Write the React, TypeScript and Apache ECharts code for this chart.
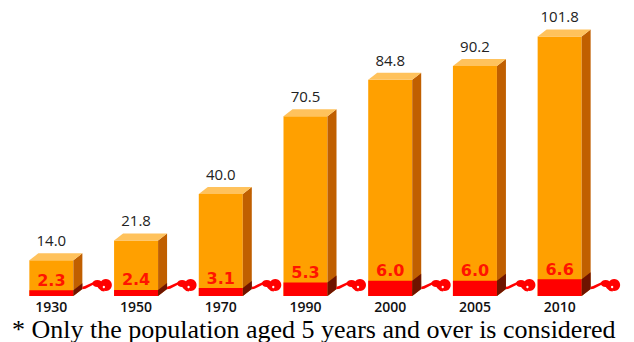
import React, { useEffect, useRef } from "react";
import * as echarts from "echarts";

const categories = ["1930", "1950", "1970", "1990", "2000", "2005", "2010"];
const totalValues = [14.0, 21.8, 40.0, 70.5, 84.8, 90.2, 101.8];
const redValues = [2.3, 2.4, 3.1, 5.3, 6.0, 6.0, 6.6];
const footnote = "* Only the population aged 5 years and over is considered";

const ORANGE = "#ffa000";
const ORANGE_SIDE = "#c05f00";
const ORANGE_TOP = "#ffc25c";
const RED = "#ff0000";
const RED_SIDE = "#6e1400";
const BAR_W = 44;
const DX = 9;
const DY = 7;

function boxChildren(api: any, value: number, front: string, side: string, top: string | null) {
  const base = api.coord([api.value(0), 0]);
  const tp = api.coord([api.value(0), value]);
  const cx = base[0];
  const x0 = cx - BAR_W / 2;
  const x1 = cx + BAR_W / 2;
  const yb = base[1];
  const yt = tp[1];
  const ch: any[] = [
    { type: "rect", shape: { x: x0, y: yt, width: BAR_W, height: yb - yt }, style: { fill: front } },
    {
      type: "polygon",
      shape: { points: [[x1, yt], [x1 + DX, yt - DY], [x1 + DX, yb - DY], [x1, yb]] },
      style: { fill: side },
    },
  ];
  if (top) {
    ch.push({
      type: "polygon",
      shape: { points: [[x0, yt], [x0 + DX, yt - DY], [x1 + DX, yt - DY], [x1, yt]] },
      style: { fill: top },
    });
  }
  return { ch, cx, x0, x1, yb, yt };
}

export default function App() {
  const ref = useRef<HTMLDivElement>(null);
  useEffect(() => {
    if (!ref.current) return;
    const chart = echarts.init(ref.current, null, { renderer: "svg" });
    chart.setOption({
      animation: false,
      grid: { left: 9, right: 32, top: 15.5, bottom: 46 },
      xAxis: {
        type: "category",
        data: categories,
        axisLine: { show: false },
        axisTick: { show: false },
        axisLabel: {
          margin: 3,
          fontSize: 14,
          lineHeight: 14,
          color: "#111",
          fontFamily: "Open Sans",
          fontWeight: 600,
        },
      },
      yAxis: { type: "value", min: 0, max: 110, show: false },
      series: [
        {
          type: "custom",
          data: totalValues.map((v, i) => [i, v]),
          renderItem: (params: any, api: any) => {
            const v = api.value(1);
            const b = boxChildren(api, v, ORANGE, ORANGE_SIDE, ORANGE_TOP);
            b.ch.push({
              type: "text",
              style: {
                text: v.toFixed(1),
                x: b.cx,
                y: b.yt - 20,
                align: "center",
                verticalAlign: "middle",
                fill: "#222",
                fontSize: 15,
                fontFamily: "Open Sans",
              },
            });
            return { type: "group", children: b.ch };
          },
        },
        {
          type: "custom",
          data: redValues.map((v, i) => [i, v]),
          renderItem: (params: any, api: any) => {
            const v = api.value(1);
            const b = boxChildren(api, v, RED, RED_SIDE, null);
            b.ch.push({
              type: "text",
              style: {
                text: v.toFixed(1),
                x: b.cx,
                y: b.yt - 2,
                align: "center",
                verticalAlign: "bottom",
                fill: "#ff1400",
                fontSize: 16,
                fontWeight: "bold",
                fontFamily: "DejaVu Sans",
              },
            });
            b.ch.push({
              type: "group",
              x: b.x1 + DX,
              y: b.yb,
              children: [
                {
                  type: "bezierCurve",
                  shape: { x1: 0, y1: -8, cpx1: 5, cpy1: -8, cpx2: 8, cpy2: -13, x2: 14, y2: -13 },
                  style: { stroke: RED, lineWidth: 2.5, fill: null },
                },
                { type: "ellipse", shape: { cx: 15, cy: -12.5, rx: 5, ry: 3.5 }, style: { fill: RED } },
                {
                  type: "bezierCurve",
                  shape: { x1: 15, y1: -11, cpx1: 18, cpy1: -9, cpx2: 18, cpy2: -6, x2: 22, y2: -6 },
                  style: { stroke: RED, lineWidth: 3, fill: null },
                },
                { type: "circle", shape: { cx: 23.5, cy: -11, r: 6 }, style: { fill: RED } },
                { type: "circle", shape: { cx: 21.5, cy: -9, r: 1.2 }, style: { fill: "#fff" } },
              ],
            });
            return { type: "group", children: b.ch };
          },
        },
      ],
      graphic: [
        {
          type: "text",
          x: 12,
          y: 329,
          style: {
            text: footnote,
            fill: "#000",
            fontSize: 26,
            lineHeight: 24,
            fontFamily: "Liberation Serif",
            verticalAlign: "middle",
          },
        },
      ],
    });
    return () => chart.dispose();
  }, []);
  return (
    <div
      ref={ref}
      style={{ position: "fixed", left: 0, top: 0, width: 634, height: 342, background: "#fff" }}
    />
  );
}
